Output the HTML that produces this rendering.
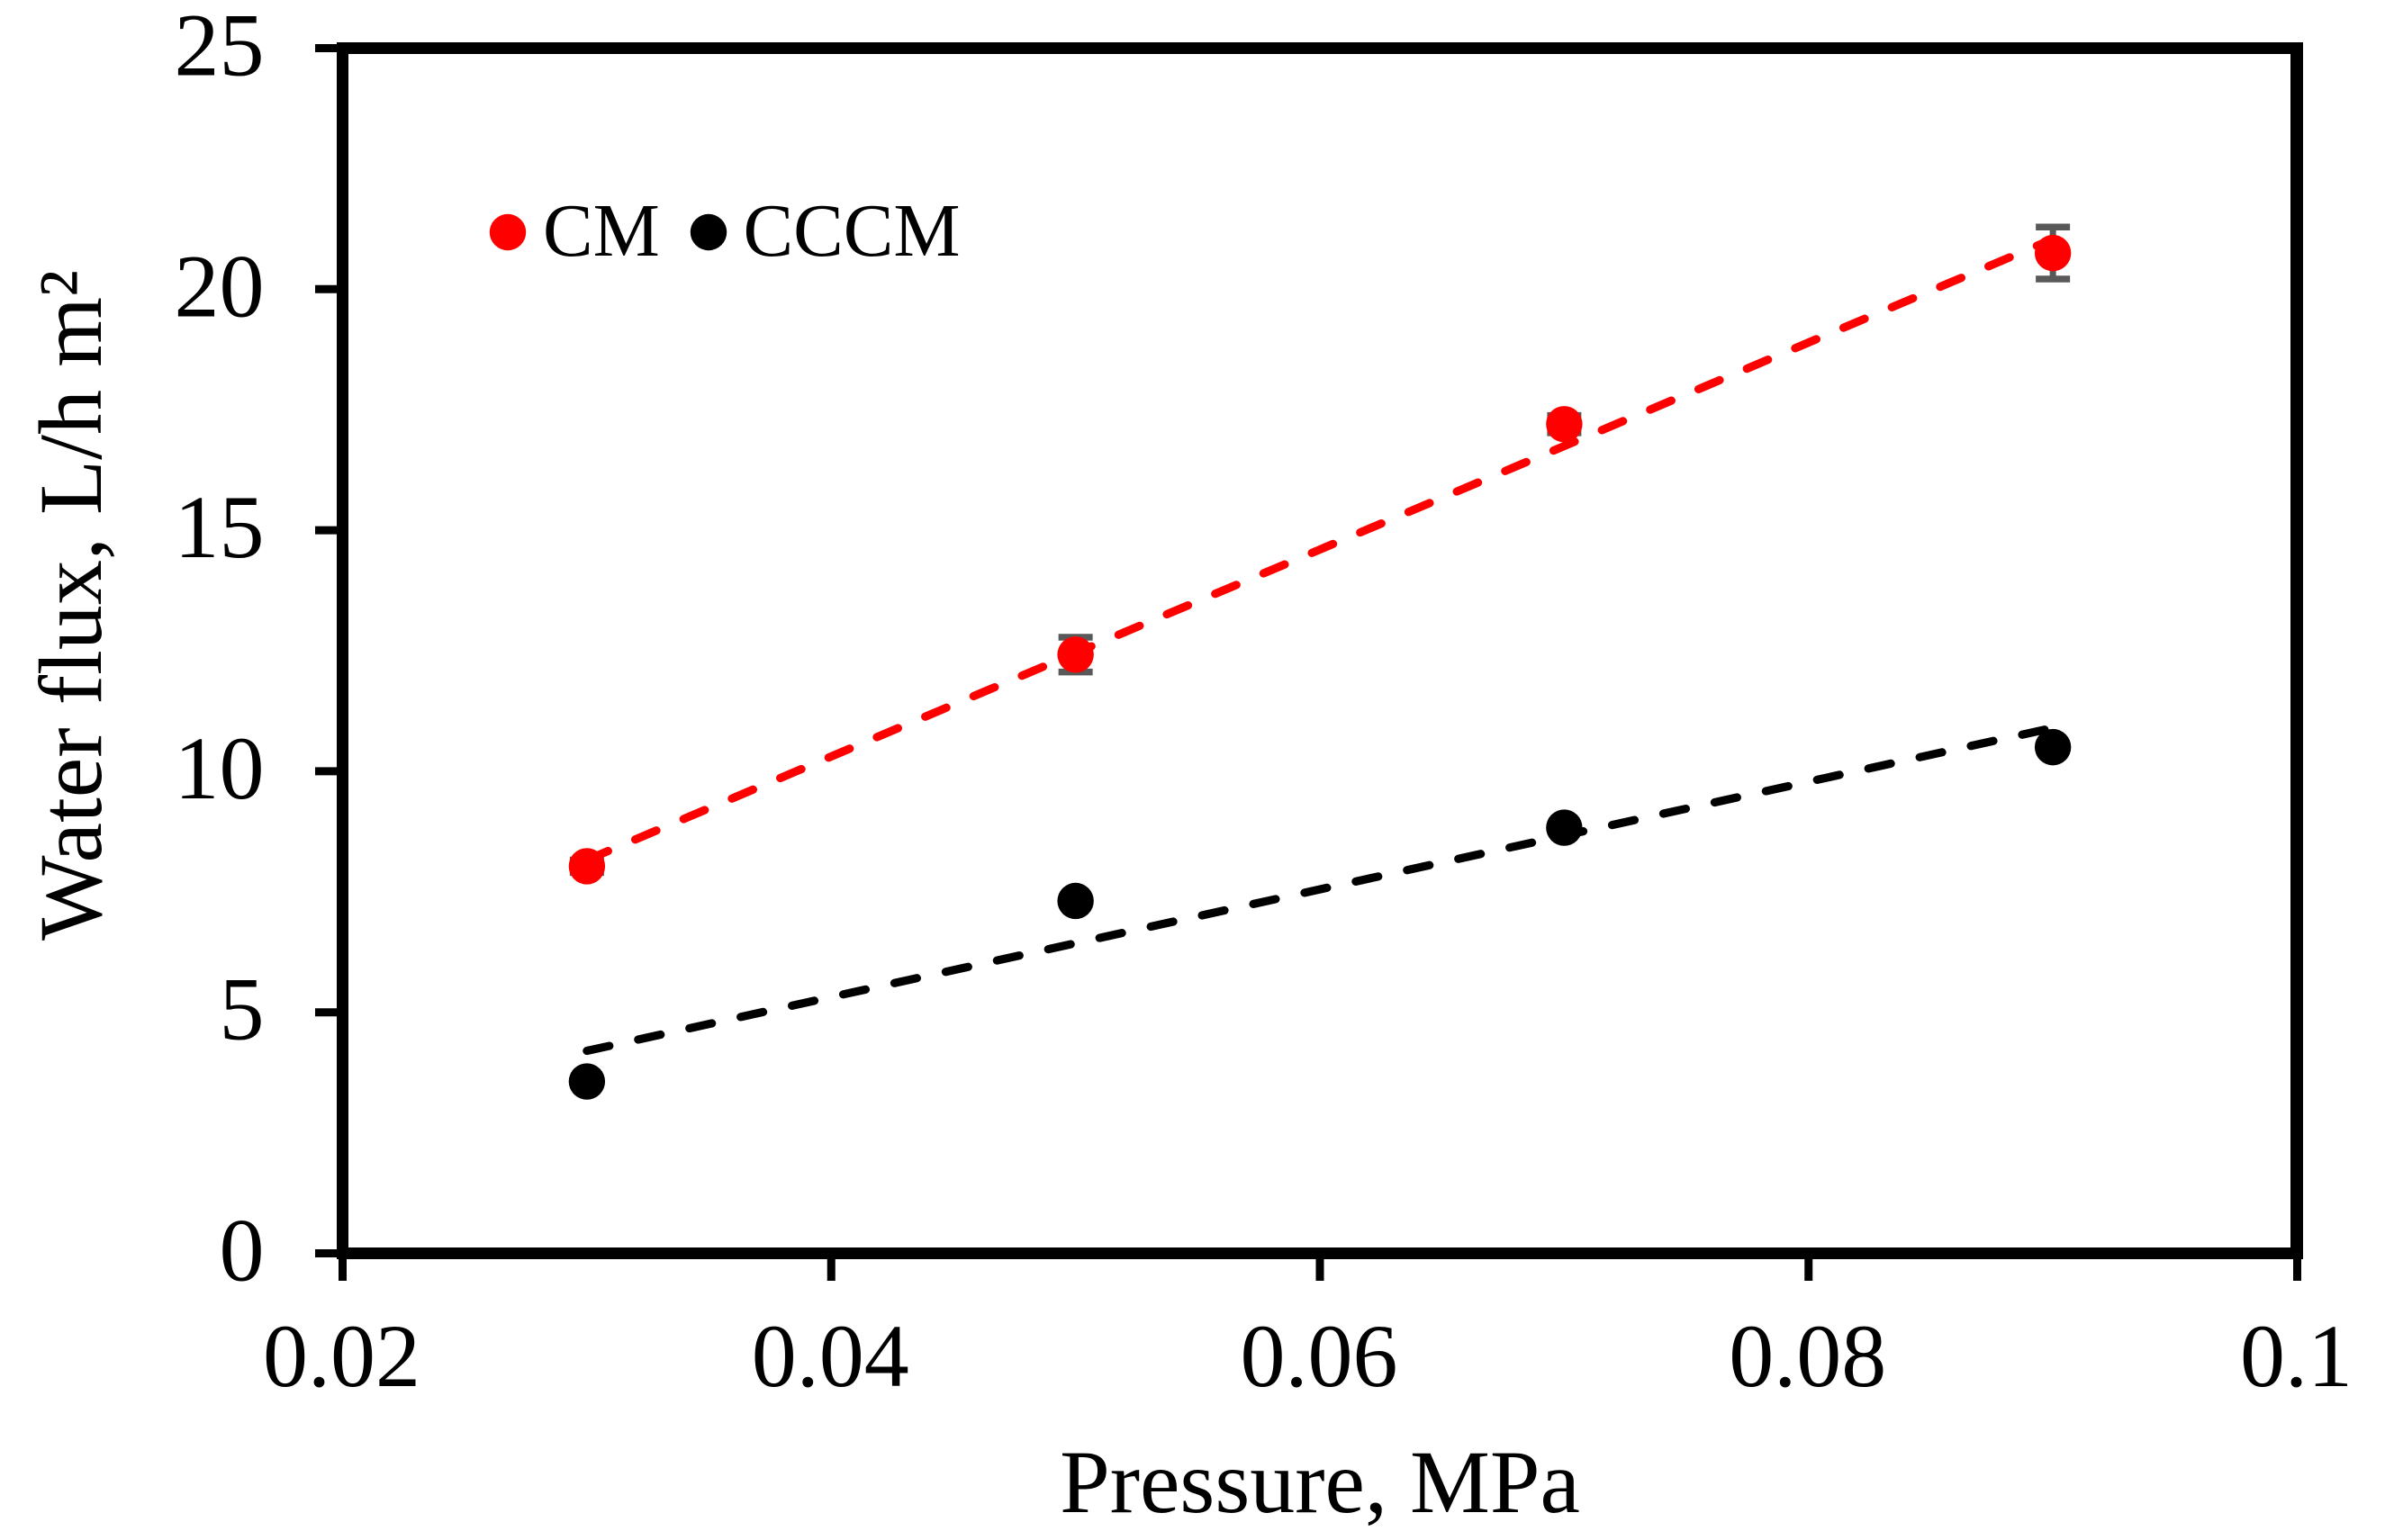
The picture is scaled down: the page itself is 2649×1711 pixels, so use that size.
<!DOCTYPE html>
<html lang="en">
<head>
<meta charset="utf-8">
<title>Water flux vs pressure</title>
<style>
html,body{margin:0;padding:0;background:#fff;width:2649px;height:1711px;overflow:hidden}
svg{display:block;position:absolute;left:0;top:0}
text{font-family:"Liberation Serif","Times New Roman",serif;fill:#000}
</style>
</head>
<body>
<svg id="chart" xmlns="http://www.w3.org/2000/svg" width="2649" height="1711" viewBox="0 0 2649 1711">
  <rect x="0" y="0" width="2649" height="1711" fill="#fff"/>
  <g id="errors"></g>
  <g id="marks"></g>
  <g id="trends"></g>
  <g id="frame">
    <line x1="380.5" y1="47" x2="380.5" y2="1399" stroke="#000" stroke-width="13"/>
    <line x1="374" y1="53.5" x2="2558" y2="53.5" stroke="#000" stroke-width="13"/>
    <line x1="2551" y1="47" x2="2551" y2="1399" stroke="#000" stroke-width="14"/>
    <line x1="374" y1="1392.5" x2="2558" y2="1392.5" stroke="#000" stroke-width="13"/>
  </g>
  <g id="axes"></g>
  <text x="1466" y="1680" font-size="100" text-anchor="middle">Pressure, MPa</text>
  <text transform="translate(112,672.5) rotate(-90)" font-size="100" text-anchor="middle" textLength="745" lengthAdjust="spacingAndGlyphs">Water flux, L/h m²</text>
  <g>
    <g>
      <circle cx="564" cy="258" r="20.2" fill="#ff0000"/>
      <text x="603" y="284" font-size="83.4">CM</text>
    </g>
    <g>
      <circle cx="787" cy="258" r="20.2" fill="#000"/>
      <text x="825.5" y="284" font-size="83.4">CCCM</text>
    </g>
  </g>
</svg>
<script>
var pressure = [0.03, 0.05, 0.07, 0.09];
var fluxCM = [8.03, 12.42, 17.2, 20.75];
var errorCM = [0.13, 0.36, 0.18, 0.54];
var fluxCCCM = [3.565, 7.31, 8.83, 10.5];
var trendX = [0.03, 0.09];
var trendCM = [8.16, 21.04];
var trendCCCM = [4.2, 10.9];
var xTicks = [0.02, 0.04, 0.06, 0.08, 0.1];
var xTickLabels = ['0.02', '0.04', '0.06', '0.08', '0.1'];
var yTicks = [0, 5, 10, 15, 20, 25];
var yTickLabels = ['0', '5', '10', '15', '20', '25'];

var NS = 'http://www.w3.org/2000/svg';
function xScale(v) { return 380.5 + (v - 0.02) * (2551.5 - 380.5) / (0.1 - 0.02); }
function yScale(v) { return 1392.5 - v * (1392.5 - 53.5) / 25; }
function make(tag, parent, attrs) {
  var el = document.createElementNS(NS, tag);
  for (var k in attrs) el.setAttribute(k, attrs[k]);
  parent.appendChild(el);
  return el;
}

var axes = document.getElementById('axes');
xTicks.forEach(function (t, i) {
  var x = xScale(t);
  var tick = make('line', axes, {x1: x, y1: 1399, x2: x, y2: 1423, stroke: '#000', 'stroke-width': 9});
  
  
  var label = make('text', axes, {x: x - 1, y: 1540, 'font-size': 100, 'text-anchor': 'middle'});
  label.textContent = xTickLabels[i];
  
  
});
yTicks.forEach(function (t, i) {
  var y = yScale(t);
  var tick = make('line', axes, {x1: 350, y1: y, x2: 374, y2: y, stroke: '#000', 'stroke-width': 9});
  
  
  var label = make('text', axes, {x: 293.5, y: y + 30, 'font-size': 100, 'text-anchor': 'end'});
  label.textContent = yTickLabels[i];
  
  
});

var errors = document.getElementById('errors');
pressure.forEach(function (p, i) {
  var x = xScale(p);
  var hi = yScale(fluxCM[i] + errorCM[i]);
  var lo = yScale(fluxCM[i] - errorCM[i]);
  var stem = make('line', errors, {x1: x, y1: hi, x2: x, y2: lo, stroke: '#595959', 'stroke-width': 7});
  
  
  var capTop = make('line', errors, {x1: x - 19, y1: hi, x2: x + 19, y2: hi, stroke: '#595959', 'stroke-width': 7.5});
  
  
  var capBottom = make('line', errors, {x1: x - 19, y1: lo, x2: x + 19, y2: lo, stroke: '#595959', 'stroke-width': 7.5});
  
  
});

var marks = document.getElementById('marks');
pressure.forEach(function (p, i) {
  var dot = make('circle', marks, {cx: xScale(p), cy: yScale(fluxCM[i]), r: 20.2, fill: '#ff0000'});
  
  
});
pressure.forEach(function (p, i) {
  var dot = make('circle', marks, {cx: xScale(p), cy: yScale(fluxCCCM[i]), r: 20.2, fill: '#000'});
  
  
});

var trends = document.getElementById('trends');
var trendRed = make('line', trends, {
  x1: xScale(trendX[0]), y1: yScale(trendCM[0]), x2: xScale(trendX[1]), y2: yScale(trendCM[1]),
  stroke: '#ff0000', 'stroke-width': 9.2, 'stroke-linecap': 'round', 'stroke-dasharray': '25.5 32.8'
});


var trendBlack = make('line', trends, {
  x1: xScale(trendX[0]), y1: yScale(trendCCCM[0]), x2: xScale(trendX[1]), y2: yScale(trendCCCM[1]),
  stroke: '#000', 'stroke-width': 9.2, 'stroke-linecap': 'round', 'stroke-dasharray': '25.5 32.8'
});


</script>
</body>
</html>
